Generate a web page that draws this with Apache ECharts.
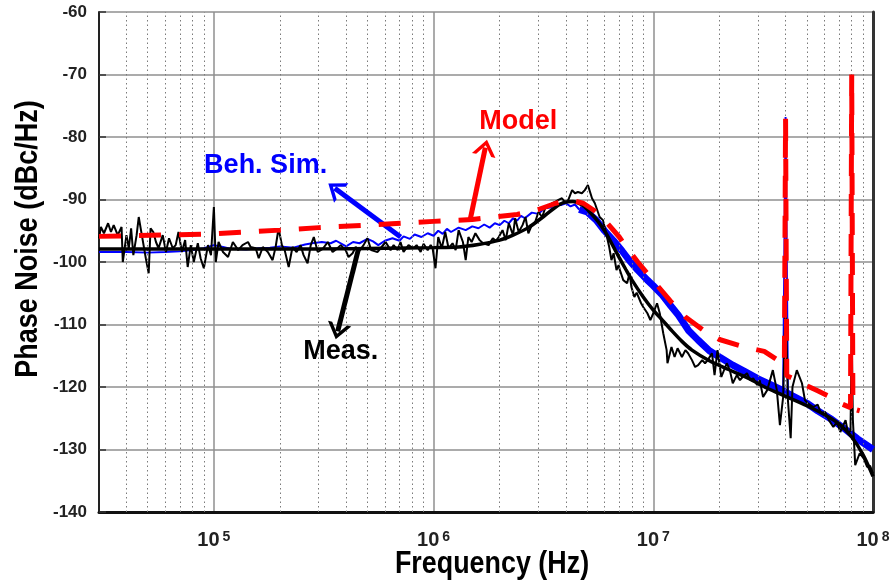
<!DOCTYPE html>
<html><head><meta charset="utf-8">
<script src="https://cdn.jsdelivr.net/npm/echarts@6/dist/echarts.min.js"></script>
<style>html,body{margin:0;padding:0;background:#fff}#chart{width:896px;height:586px}</style>
</head><body><div id="chart"></div>
<script>
// ---------- data (frequency in Hz, phase noise in dBc/Hz) ----------
const xMin = 3e4, xMax = 1e8;
const yMin = -140, yMax = -60, yStep = 10;
const xTitle = 'Frequency (Hz)';
const yTitle = 'Phase Noise (dBc/Hz)';
const minorGridF = [4e4,5e4,6e4,7e4,8e4,9e4, 2e5,3e5,4e5,5e5,6e5,7e5,8e5,9e5,
  2e6,3e6,4e6,5e6,6e6,7e6,8e6,9e6, 2e7,3e7,4e7,5e7,6e7,7e7,8e7,9e7];

// Model (red dashed)
const modelF = [3e4,1e5,2e5,3e5,5e5,1e6,1.5e6,2.4e6,3e6,3.6e6,4.2e6,4.8e6,5.4e6,5.9e6,7e6,7.6e6,8.5e6,1e7,
  1.2e7,1.4e7,1.7e7,2e7,2.6e7,3.2e7,3.8e7,3.95e7,4e7,4.05e7,4.3e7,5e7,5.6e7,6.5e7,7.2e7,7.9e7,8e7,8.1e7,8.7e7];
const modelV = [-95.9,-95.5,-94.9,-94.5,-94.1,-93.5,-93.2,-92.4,-91.6,-90.6,-90.1,-90.6,-91.8,-93,-96,-97.8,-100,-103,
  -106.3,-108.8,-111,-112.4,-113.6,-114.3,-116,-116.5,-77,-118.2,-118.6,-119.8,-120.6,-121.7,-122.7,-123.3,-70,-123.5,-123.8];

// Behavioural simulation (blue): low-frequency thin trace, high-frequency dense band, spur
const simLowF = [3e4,4e4,5e4,6e4,7e4,8e4,9e4,
  1e5,1.1e5,1.2e5,1.4e5,1.6e5,1.8e5,2e5,
  2.3e5,2.6e5,2.8e5,3.1e5,3.4e5,3.6e5,4e5,
  4.3e5,4.6e5,5e5,5.3e5,5.6e5,6e5,6.5e5,
  7e5,7.3e5,7.8e5,8.2e5,8.8e5,9.4e5,1e6,
  1.05e6,1.1e6,1.15e6,1.2e6,1.3e6,1.4e6,1.5e6,
  1.6e6,1.7e6,1.8e6,1.9e6,2e6,2.1e6,2.2e6,
  2.3e6,2.4e6,2.5e6,2.6e6,2.8e6,3e6,3.2e6,
  3.4e6,3.6e6,3.8e6,4e6,4.2e6,4.4e6,4.6e6];
const simLowV = [-98.4,-98.4,-98.5,-98.4,-98.3,-98.1,-97.8,
  -97.3,-97.6,-97.9,-98.0,-97.8,-97.7,-97.5,
  -97.7,-97.2,-97.0,-96.8,-97.0,-96.6,-97.5,
  -96.8,-97.0,-96.3,-96.7,-97.3,-96.6,-96.2,
  -96.6,-95.9,-96.3,-95.6,-96.0,-95.4,-95.8,
  -95.0,-95.5,-94.7,-95.2,-94.5,-94.9,-94.3,
  -94.6,-94.0,-94.5,-93.8,-94.1,-93.4,-93.8,
  -93.0,-93.4,-92.6,-93.0,-92.1,-92.3,-91.4,
  -91.3,-90.7,-90.9,-90.6,-91.1,-90.8,-91.6];
const simHighF = [4.6e6,5e6,5.5e6,6e6,6.6e6,7.2e6,7.8e6,
  8.5e6,9.4e6,1e7,1.1e7,1.2e7,1.3e7,1.45e7,
  1.6e7,1.8e7,2e7,2.3e7,2.6e7,3e7,3.4e7,
  3.8e7,4.3e7,5e7,5.6e7,6.5e7,7.5e7,8.5e7,
  1e8];
const simHighV = [-91.6,-92.0,-93.3,-95.0,-96.6,-98.2,-99.8,
  -101.3,-102.9,-103.8,-105.3,-107.0,-108.5,-111.0,
  -112.5,-114.2,-115.2,-116.5,-117.5,-118.7,-119.6,
  -120.4,-121.4,-122.6,-123.8,-125.2,-126.8,-128.3,
  -130.0];
const simSpurF = [3.9e7, 4e7, 4.1e7];
const simSpurV = [-120.6, -76.8, -121.0];

// Measurement (black): raw trace
const measRawF = [
  3e4,3.06e4,3.16e4,3.3e4,3.4e4,3.5e4,3.65e4,3.8e4,3.85e4,4e4,
  4.1e4,4.2e4,4.3e4,4.45e4,4.55e4,4.7e4,4.9e4,5.05e4,5.15e4,5.3e4,
  5.45e4,5.6e4,5.85e4,6.05e4,6.25e4,6.5e4,6.7e4,6.9e4,7.15e4,7.4e4,
  7.6e4,7.85e4,8.1e4,8.45e4,8.7e4,9e4,9.4e4,9.7e4,1e5,1.02e5,
  1.05e5,1.1e5,1.16e5,1.22e5,1.29e5,1.35e5,1.43e5,1.47e5,1.55e5,1.6e5,
  1.67e5,1.76e5,1.85e5,1.91e5,1.97e5,2.04e5,2.1e5,2.19e5,2.28e5,2.38e5,
  2.48e5,2.56e5,2.67e5,2.76e5,2.85e5,2.97e5,3.13e5,3.3e5,3.47e5,3.62e5,
  3.78e5,3.98e5,4.1e5,4.28e5,4.42e5,4.6e5,4.8e5,5e5,5.2e5,5.55e5,
  5.74e5,6.05e5,6.37e5,6.58e5,6.86e5,7.07e5,7.3e5,7.69e5,8.1e5,8.37e5,
  8.73e5,9e5,9.4e5,9.7e5,9.9e5,1.02e6,1.05e6,1.09e6,1.13e6,1.17e6,
  1.22e6,1.26e6,1.3e6,1.36e6,1.4e6,1.44e6,1.49e6,1.55e6,1.62e6,1.68e6,
  1.78e6,1.86e6,1.92e6,1.98e6,2.06e6,2.13e6,2.2e6,2.3e6,2.35e6,2.44e6,
  2.54e6,2.62e6,2.7e6,2.8e6,2.9e6,3e6,3.12e6,3.22e6,3.32e6,3.46e6,
  3.57e6,3.68e6,3.84e6,3.96e6,4.1e6,4.27e6,4.4e6,4.54e6,4.73e6,4.88e6,
  5.04e6,5.26e6,5.42e6,5.7e6,5.9e6,6.1e6,6.3e6,6.45e6,6.6e6,6.8e6,
  6.95e6,7.05e6,7.3e6,7.6e6,7.8e6,7.95e6,8.2e6,8.4e6,8.8e6,9e6,
  9.4e6,9.7e6,1e7,1.04e7,1.07e7,1.11e7,1.15e7,1.16e7,1.21e7,1.25e7,
  1.29e7,1.35e7,1.4e7,1.44e7,1.5e7,1.55e7,1.6e7,1.67e7,1.72e7,1.77e7,
  1.85e7,1.9e7,1.96e7,2.04e7,2.16e7,2.23e7,2.3e7,2.4e7,2.48e7,2.55e7,
  2.67e7,2.76e7,2.85e7,2.97e7,3.05e7,3.16e7,3.3e7,3.4e7,3.5e7,3.65e7,
  3.77e7,3.9e7,4e7,4.1e7,4.22e7,4.3e7,4.5e7,4.75e7,4.9e7,5.05e7,
  5.35e7,5.6e7,5.8e7,6.05e7,6.3e7,6.6e7,6.85e7,7.1e7,7.5e7,7.7e7,
  7.9e7,8e7,8.1e7,8.3e7,8.7e7,9.1e7,9.4e7,9.7e7,1e8];
const measRawV = [
  -96.2,-94.4,-95.4,-93.8,-95.2,-94.1,-95.7,-94.4,-100,-95.7,
  -97.8,-94.6,-98.9,-95.7,-92.8,-95.7,-99.4,-101.8,-94.6,-95.2,
  -96.8,-97.8,-95.7,-98.4,-96.2,-97.8,-97.3,-95.2,-98.4,-96.5,
  -100.8,-97.3,-100,-97,-99.4,-101,-97.3,-98.9,-91.2,-100,
  -96.8,-98.4,-99.2,-96.8,-98.1,-97.3,-96.8,-97.6,-97.8,-99.4,
  -97.6,-98.4,-99.7,-97.6,-94.6,-97.3,-98.1,-100.8,-97.6,-98.4,
  -97.3,-98.9,-100.2,-97.3,-96,-98.4,-97.9,-96.8,-98.4,-97.9,
  -97.3,-98.1,-99.2,-98.6,-97.6,-98.2,-97.3,-96.2,-98.1,-98.4,
  -97.8,-96.8,-98.1,-97.3,-98.1,-96.8,-98.4,-97.3,-97.8,-97.3,
  -98.4,-97.1,-98.1,-97.3,-97.8,-101,-96,-97.8,-95.2,-97.8,
  -97,-98.1,-94.9,-96.8,-99.7,-96,-96.8,-95.4,-96.5,-97,
  -97.3,-96.2,-96.6,-96,-94.9,-96.5,-93.8,-95.7,-93,-95.2,
  -94.1,-92.8,-95.4,-94.1,-93.6,-92,-92.8,-91.4,-91.2,-90.6,
  -90.4,-90.1,-89.8,-90.4,-90.1,-88.5,-89,-88.8,-89,-88.5,
  -87.7,-89.8,-90.6,-92.8,-93.3,-95.4,-97.6,-99.7,-98.6,-101.3,
  -100.5,-101.3,-102.9,-103.4,-101.8,-104,-105.6,-104.9,-106.6,-107.2,
  -108.2,-109.3,-108.2,-106.6,-108.2,-111.4,-114.1,-116.2,-113.6,-115.2,
  -113.8,-115.2,-114.1,-114.6,-115.7,-116.8,-116.5,-115.7,-116.2,-115.7,
  -114.6,-118.1,-114.1,-118.4,-116.2,-117.3,-119.4,-118.1,-118.9,-118.4,
  -117.8,-118.9,-118.6,-119.7,-118.9,-121.6,-120.5,-118.9,-117.3,-120.5,
  -126.1,-121.6,-106.1,-122.1,-128.2,-120,-117.3,-119.4,-122.1,-122.6,
  -123.2,-122.8,-124.2,-124,-125.3,-126.4,-125.6,-127.2,-125.3,-127.4,
  -127,-111.7,-125.3,-132.5,-130.6,-131.5,-132.8,-132.6,-133.8];

// Measurement (black): smoothed trace
const measSmF = [3e4,1e5,3e5,6e5,1e6,1.3e6,1.6e6,
  2e6,2.3e6,2.7e6,3.2e6,3.6e6,3.9e6,4.3e6,
  4.8e6,5.2e6,5.6e6,6e6,6.5e6,7e6,7.5e6,
  8e6,9e6,1e7,1.1e7,1.2e7,1.35e7,1.5e7,
  1.8e7,2.2e7,2.7e7,3.3e7,4e7,5e7,6e7,
  7e7,8e7,9e7,1e8];
const measSmV = [-97.9,-97.9,-97.9,-97.8,-97.7,-97.6,-97.2,
  -96.5,-95.7,-94.5,-92.6,-91.2,-90.5,-90.3,
  -91.0,-92.2,-93.5,-95.0,-97.2,-99.3,-101.2,
  -102.9,-105.6,-107.7,-109.3,-110.8,-112.7,-114.1,
  -115.8,-117.2,-118.6,-120.2,-121.5,-123.0,-124.4,
  -125.9,-128.0,-130.8,-134.3];

// Annotation texts and arrows (data coordinates)
const labelTexts  = ['Beh. Sim.', 'Model', 'Meas.'];
const labelColors = ['#0000ff', '#ff0000', '#000000'];
const labelAt     = [[1.72e5, -84.5], [2.43e6, -77.6], [3.78e5, -114.4]];
const arrowFrom   = [[7.08e5, -96.0], [1.47e6, -93.1], [4.56e5, -97.8]];
const arrowTo     = [[3.55e5, -88.2], [1.72e6, -81.7], [3.66e5, -111.1]];

// ---------- chart ----------
const zip = (fs, vs) => fs.map((f, i) => [f, vs[i]]);
const SANS = "'Liberation Sans', Arial, sans-serif";
const chevron = 'path://M10,0 L20,13 L16.4,13 L10,4.6 L3.6,13 L0,13 Z';

const chart = echarts.init(document.getElementById('chart'), null, {renderer: 'canvas'});

const lineBase = {type: 'line', showSymbol: false, symbol: 'none', silent: true, animation: false};

chart.setOption({
  animation: false,
  backgroundColor: '#ffffff',
  grid: {left: 99, right: 23, top: 12, bottom: 74, containLabel: false, outerBoundsMode: 'none'},
  graphic: [
    {type: 'text', x: 492, y: 564, scaleX: 0.84, silent: true,
     style: {text: xTitle, font: 'bold 32px ' + SANS, fill: '#000', align: 'center', verticalAlign: 'middle'}},
    {type: 'text', x: 28, y: 239, rotation: Math.PI / 2, scaleX: 0.87, silent: true,
     style: {text: yTitle, font: 'bold 31px ' + SANS, fill: '#000', align: 'center', verticalAlign: 'middle'}}
  ],
  xAxis: {
    type: 'log', logBase: 10, min: xMin, max: xMax,
    axisLine: {show: true, lineStyle: {color: '#111', width: 3}},
    axisTick: {show: false},
    splitLine: {show: true, lineStyle: {color: '#8f8f8f', width: 1.5}},
    axisLabel: {
      showMinLabel: false, margin: 18, color: '#222',
      formatter: function (v) {
        const e = Math.log10(v);
        if (Math.abs(e - Math.round(e)) > 1e-9) return '';
        return '{b|10}{s|' + Math.round(e) + '}';
      },
      rich: {
        b: {fontSize: 20, fontWeight: 'bold', fontFamily: SANS, color: '#222'},
        s: {fontSize: 14, fontWeight: 'bold', fontFamily: SANS, color: '#222', verticalAlign: 'top', padding: [0, 0, 0, 3]}
      }
    }
  },
  yAxis: [{
    type: 'value', min: yMin, max: yMax, interval: yStep, position: 'left',
    axisLine: {show: true, lineStyle: {color: '#222', width: 2}},
    axisTick: {show: true, inside: true, length: 7, lineStyle: {color: '#333', width: 1.5}},
    splitLine: {show: true, lineStyle: {color: '#8f8f8f', width: 1.5}},
    axisLabel: {fontSize: 17, fontWeight: 'bold', fontFamily: SANS, color: '#222', margin: 12}
  }, {
    type: 'value', min: yMin, max: yMax, interval: yStep, position: 'right',
    axisLine: {show: true, lineStyle: {color: '#333', width: 3}},
    axisTick: {show: false}, axisLabel: {show: false}, splitLine: {show: false}
  }],
  series: [
    Object.assign({}, lineBase, {
      name: 'Beh. Sim.', data: zip(simLowF, simLowV), z: 2,
      lineStyle: {color: '#0000ff', width: 2},
      markLine: {
        silent: true, symbol: ['none', 'none'], animation: false,
        label: {show: false}, emphasis: {disabled: true},
        lineStyle: {color: '#7a7a7a', width: 1, type: [1.5, 3]},
        data: minorGridF.map(f => ({xAxis: f}))
      }
    }),
    Object.assign({}, lineBase, {
      name: 'Beh. Sim. band', data: zip(simHighF, simHighV), z: 3,
      lineStyle: {color: '#0000ff', width: 7}
    }),
    Object.assign({}, lineBase, {
      name: 'Beh. Sim. spur', data: zip(simSpurF, simSpurV), z: 3,
      lineStyle: {color: '#0000ff', width: 2}
    }),
    Object.assign({}, lineBase, {
      name: 'Meas. raw', data: zip(measRawF, measRawV), z: 4,
      lineStyle: {color: '#000', width: 2}
    }),
    Object.assign({}, lineBase, {
      name: 'Meas.', data: zip(measSmF, measSmV), z: 5, smooth: 0.3,
      lineStyle: {color: '#000', width: 3.5}
    }),
    Object.assign({}, lineBase, {
      name: 'Model', data: zip(modelF, modelV), z: 6,
      lineStyle: {color: '#ff0000', width: 5, type: [22, 18]}
    }),
    Object.assign({}, lineBase, {
      name: 'annotations', data: [], z: 10,
      markLine: {
        silent: true, animation: false, symbol: ['none', chevron], symbolSize: [24, 16],
        label: {show: false}, emphasis: {disabled: true},
        data: arrowFrom.map((a, i) => [
          {coord: a, lineStyle: {color: labelColors[i], width: 5, type: 'solid'}, itemStyle: {color: labelColors[i]}},
          {coord: arrowTo[i]}
        ])
      },
      markPoint: {
        silent: true, animation: false, symbol: 'circle', symbolSize: 2,
        itemStyle: {color: 'rgba(0,0,0,0)'},
        data: labelAt.map((c, i) => ({
          coord: c, value: labelTexts[i],
          itemStyle: {color: 'rgba(0,0,0,0)'},
          label: {show: true, position: 'inside', formatter: labelTexts[i], color: labelColors[i],
                  fontSize: 27, fontWeight: 'bold', fontFamily: SANS}
        }))
      }
    })
  ]
});
</script></body></html>
